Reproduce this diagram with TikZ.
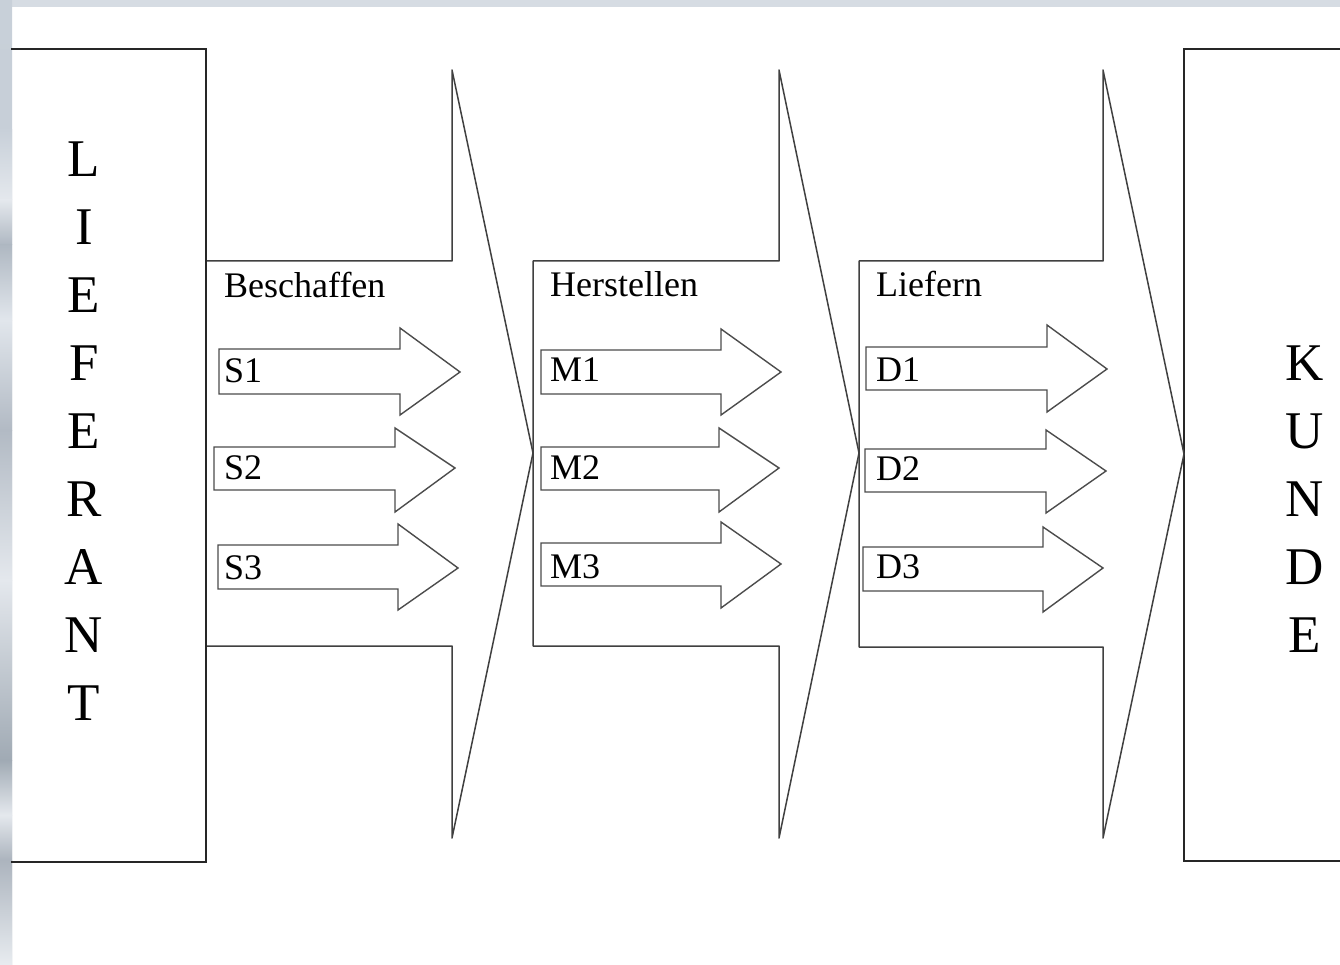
\documentclass[tikz,border=0pt]{standalone}
\usepackage{fontspec}
\setmainfont{Liberation Serif}
\begin{document}
\begin{tikzpicture}[x=1pt,y=-1pt,
  boxline/.style={draw=black!85, line width=1.6pt},
  bigarrow/.style={draw=black!75, line width=1.5pt, fill=white, line join=round},
  smallarrow/.style={draw=black!70, line width=1.4pt, fill=white, line join=miter},
  lbl/.style={anchor=base west, inner sep=0pt, font=\fontsize{36}{40}\selectfont},
  big/.style={anchor=base, inner sep=0pt, font=\fontsize{53}{60}\selectfont}]
\useasboundingbox (0,0) rectangle (1340,965);
% background frame
\fill[white] (0,0) rectangle (1340,965);
\fill[color={rgb,255:red,214;green,220;blue,227}] (0,0) rectangle (1340,7);
\shade[top color={rgb,255:red,200;green,208;blue,217}, bottom color={rgb,255:red,190;green,198;blue,206}] (0,0) rectangle (12,965);
\shade[top color={rgb,255:red,200;green,208;blue,217}, bottom color={rgb,255:red,228;green,232;blue,237}] (0,130) rectangle (12,200);
\shade[top color={rgb,255:red,228;green,232;blue,237}, bottom color={rgb,255:red,175;green,184;blue,194}] (0,200) rectangle (12,245);
\shade[top color={rgb,255:red,175;green,184;blue,194}, bottom color={rgb,255:red,225;green,230;blue,236}] (0,245) rectangle (12,320);
\shade[top color={rgb,255:red,225;green,230;blue,236}, bottom color={rgb,255:red,178;green,186;blue,196}] (0,320) rectangle (12,430);
\shade[top color={rgb,255:red,178;green,186;blue,196}, bottom color={rgb,255:red,228;green,232;blue,237}] (0,430) rectangle (12,580);
\shade[top color={rgb,255:red,228;green,232;blue,237}, bottom color={rgb,255:red,160;green,170;blue,180}] (0,580) rectangle (12,760);
\shade[top color={rgb,255:red,160;green,170;blue,180}, bottom color={rgb,255:red,228;green,232;blue,237}] (0,760) rectangle (12,815);
\shade[top color={rgb,255:red,228;green,232;blue,237}, bottom color={rgb,255:red,172;green,180;blue,190}] (0,815) rectangle (12,860);
\shade[top color={rgb,255:red,172;green,180;blue,190}, bottom color={rgb,255:red,232;green,236;blue,240}] (0,860) rectangle (12,965);

% side boxes
\draw[boxline] (11,49) -- (206,49) -- (206,862) -- (11,862);
\draw[boxline] (1341,49) -- (1184,49) -- (1184,861) -- (1341,861);

% big process arrows
\draw[bigarrow] (206,261) -- (452,261) -- (452,70) -- (533,453) -- (452,838) -- (452,646) -- (206,646) -- cycle;
\draw[bigarrow] (533,261) -- (779,261) -- (779,70) -- (859,453) -- (779,838) -- (779,646) -- (533,646) -- cycle;
\draw[bigarrow] (859,261) -- (1103,261) -- (1103,70) -- (1184,454) -- (1103,838) -- (1103,647) -- (859,647) -- cycle;
\draw[boxline] (206,49) -- (206,862);

% small arrows S
\draw[smallarrow] (219,349) -- (400,349) -- (400,328) -- (460,372) -- (400,415) -- (400,394) -- (219,394) -- cycle;
\draw[smallarrow] (214,447) -- (395,447) -- (395,428) -- (455,468) -- (395,512) -- (395,490) -- (214,490) -- cycle;
\draw[smallarrow] (218,545) -- (398,545) -- (398,524) -- (458,568) -- (398,610) -- (398,589) -- (218,589) -- cycle;
% small arrows M
\draw[smallarrow] (541,350) -- (721,350) -- (721,329) -- (781,372) -- (721,415) -- (721,394) -- (541,394) -- cycle;
\draw[smallarrow] (541,447) -- (719,447) -- (719,428) -- (779,468) -- (719,512) -- (719,490) -- (541,490) -- cycle;
\draw[smallarrow] (541,543) -- (721,543) -- (721,522) -- (781,564) -- (721,608) -- (721,586) -- (541,586) -- cycle;
% small arrows D
\draw[smallarrow] (866,347) -- (1047,347) -- (1047,325) -- (1107,369) -- (1047,412) -- (1047,390) -- (866,390) -- cycle;
\draw[smallarrow] (865,449) -- (1046,449) -- (1046,430) -- (1106,471) -- (1046,513) -- (1046,492) -- (865,492) -- cycle;
\draw[smallarrow] (863,547) -- (1043,547) -- (1043,527) -- (1103,568) -- (1043,612) -- (1043,591) -- (863,591) -- cycle;

% labels
\node[lbl] (beschaffen) at (224,298) {Beschaffen};
\node[lbl] (herstellen) at (550,297) {Herstellen};
\node[lbl] (liefern) at (876,297) {Liefern};
\node[lbl] (s1) at (224,382) {S1};
\node[lbl] (s2) at (224,479) {S2};
\node[lbl] (s3) at (224,579) {S3};
\node[lbl] (m1) at (550,381) {M1};
\node[lbl] (m2) at (550,479) {M2};
\node[lbl] (m3) at (550,578) {M3};
\node[lbl] (d1) at (876,381) {D1};
\node[lbl] (d2) at (876,480) {D2};
\node[lbl] (d3) at (876,578) {D3};

% vertical words
\foreach \c [count=\i from 0] in {L,I,E,F,E,R,A,N,T}
  \node[big] (lief\i) at (84,177+67.9*\i) {\c};
\foreach \c [count=\i from 0] in {K,U,N,D,E}
  \node[big] (kunde\i) at (1305,380+68*\i) {\c};
\end{tikzpicture}
\end{document}
